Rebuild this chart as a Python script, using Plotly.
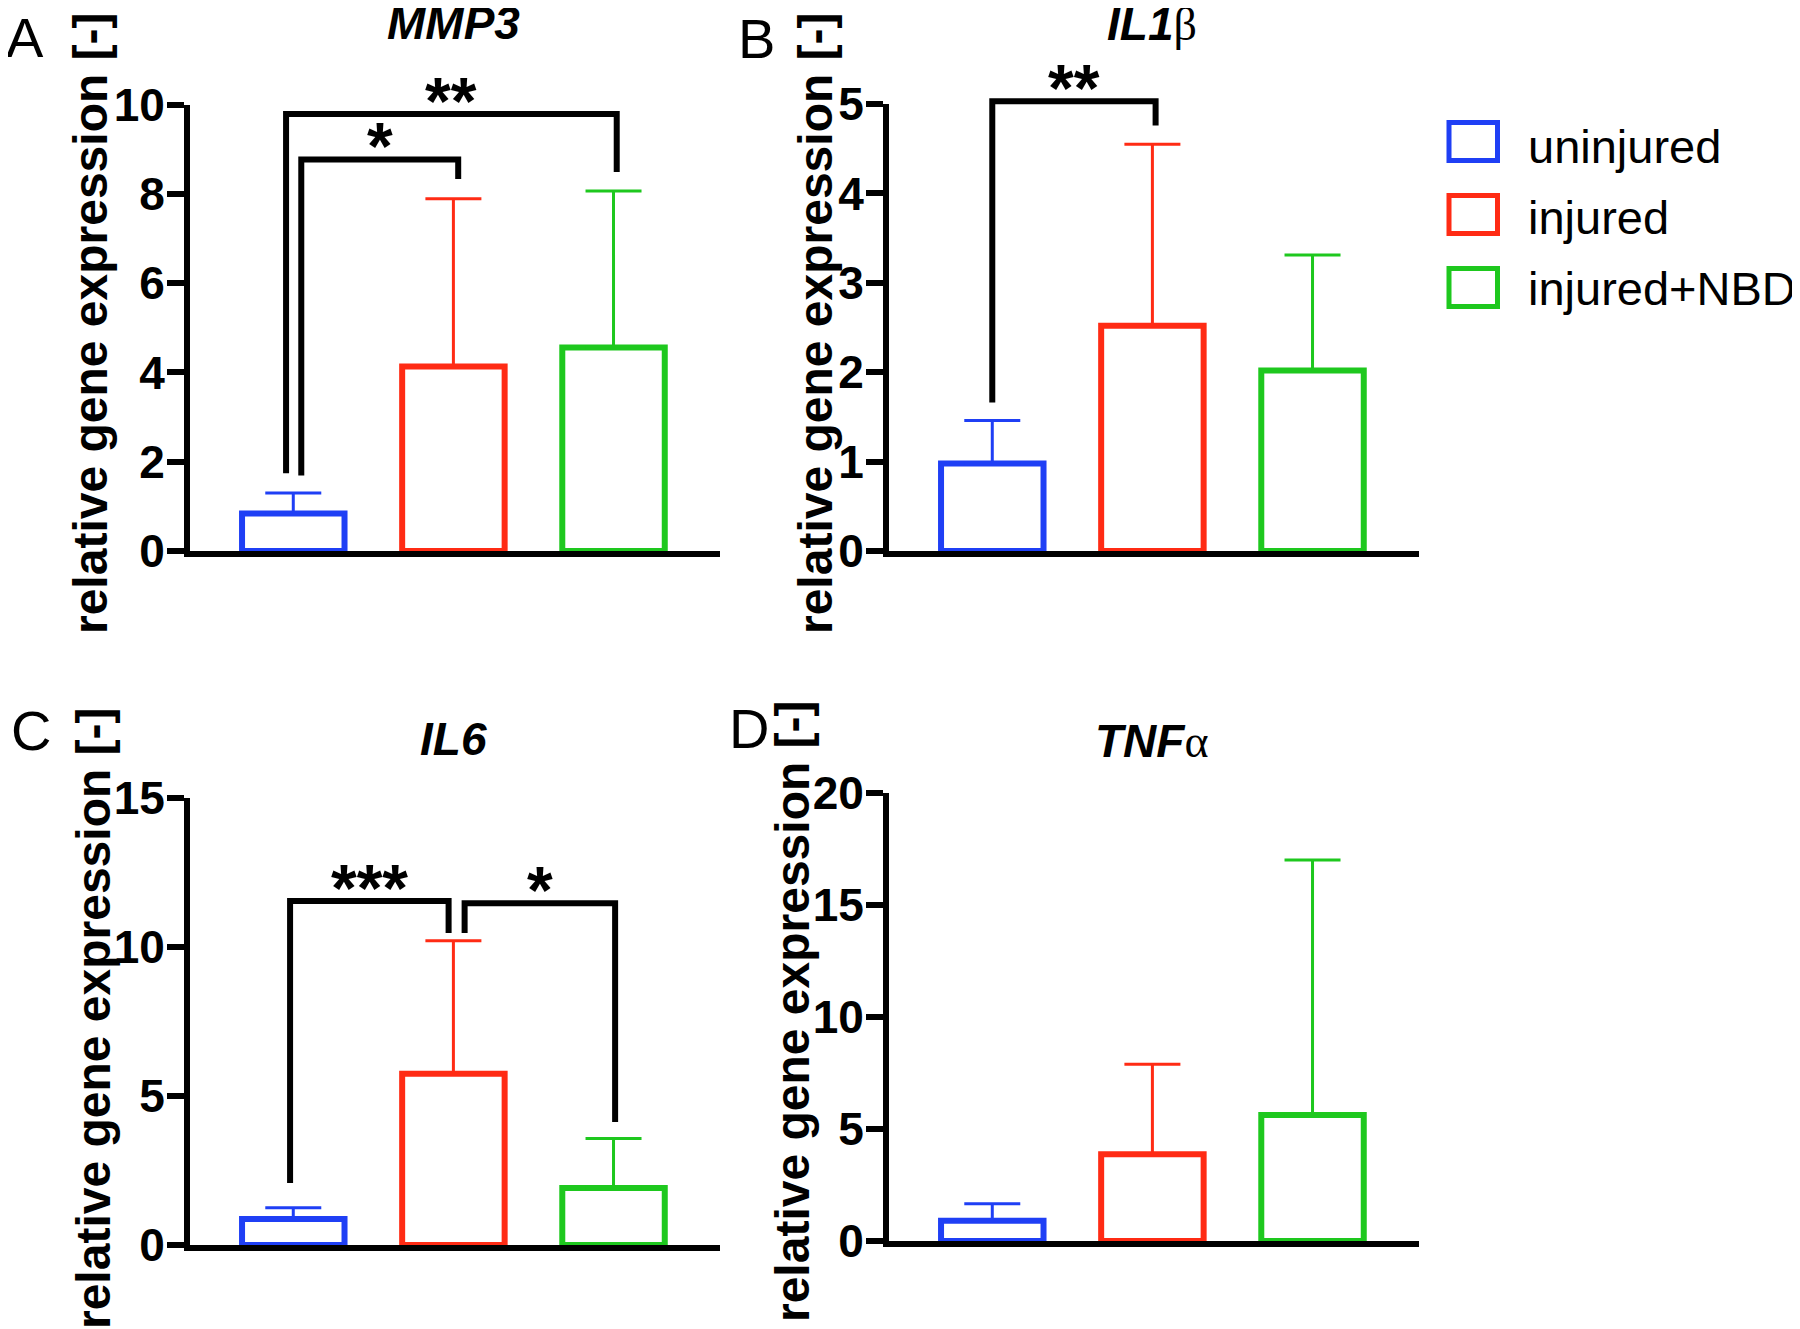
import plotly.graph_objects as go

# groups and colours
groups = ['uninjured', 'injured', 'injured+NBD']
colors = ['#1f3ff5', '#ff2b14', '#1ec81e']

panel_letters = ['A', 'B', 'C', 'D']
gene_titles = ['<b><i>MMP3</i></b>',
               "<b><i>IL1</i></b><span style='font-family:Liberation Serif'>β</span>",
               '<b><i>IL6</i></b>',
               "<b><i>TNF</i></b><span style='font-family:Liberation Serif'>α</span>"]

# mean and SD
mmp3_mean = [0.84, 4.13, 4.56]
mmp3_sd = [0.46, 3.76, 3.50]
il1b_mean = [0.98, 2.52, 2.02]
il1b_sd = [0.48, 2.03, 1.29]
il6_mean = [0.87, 5.75, 1.91]
il6_sd = [0.38, 4.46, 1.66]
tnfa_mean = [0.90, 3.87, 5.62]
tnfa_sd = [0.76, 4.02, 11.39]

y_max = [10, 5, 15, 20]
y_dtick = [2, 1, 5, 5]

# significance brackets: (group a, group b, label, bracket height, foot at a, foot at b)
mmp3_sig = [(0, 2, '**', 9.79, 1.74, 8.49), (0, 1, '*', 8.77, 1.69, 8.33)]
il1b_sig = [(0, 1, '**', 5.03, 1.66, 4.76)]
il6_sig = [(0, 1, '***', 11.54, 2.08, 10.47), (1, 2, '*', 11.47, 10.47, 4.13)]
tnfa_sig = []

means = [mmp3_mean, il1b_mean, il6_mean, tnfa_mean]
sds = [mmp3_sd, il1b_sd, il6_sd, tnfa_sd]
sigs = [mmp3_sig, il1b_sig, il6_sig, tnfa_sig]

# ----------------------------------------------------------------------------
# layout helpers (pixel positions on the page; the page body adds an 8px margin)
W, H = 1800, 1329
BODY = 8


def px(x):
    return (x - BODY) / W


def py(y):
    return 1 - (y - BODY) / H


# plot area of each panel: left, right, top, bottom
boxes = [(190, 720, 104.5, 551),
         (889, 1419, 104, 551),
         (190, 720, 798, 1245),
         (889, 1419, 793, 1241)]
# small sideways shifts of bracket feet, so the legs don't overlap
nudges = [[(-0.045, 0.02), (0.05, 0.03)],
          [(0.0, 0.02)],
          [(-0.02, -0.03), (0.07, 0.01)],
          []]
letter_pos = [(25, 37), (756, 39), (31, 730), (749, 728)]
ylabel_pos = [(90, 323), (815, 323), (93, 1018), (792, 1011)]
title_y = [23, 24, 739, 741]

FONT = 'Liberation Sans'

fig = go.Figure()
annotations = []
shapes = []

for k in range(4):
    n = str(k + 1) if k else ''
    xa, ya = 'x' + n, 'y' + n

    for g in range(3):
        fig.add_trace(go.Bar(
            x=[g], y=[means[k][g]], xaxis=xa, yaxis=ya,
            width=0.64,
            marker=dict(color='rgba(255,255,255,0)',
                        line=dict(color=colors[g], width=6)),
            error_y=dict(type='data', symmetric=False,
                         array=[sds[k][g]], arrayminus=[0],
                         color=colors[g], thickness=3, width=28),
            showlegend=False, hoverinfo='skip'))

    # brackets use the axis domain vertically so they can poke above the top tick
    for (a, b, lab, h, fa, fb), (da, db) in zip(sigs[k], nudges[k]):
        ym = y_max[k]
        shapes.append(dict(
            type='path', xref=xa, yref=ya + ' domain',
            path='M {} {} L {} {} L {} {} L {} {}'.format(
                a + da, fa / ym, a + da, h / ym, b + db, h / ym, b + db, fb / ym),
            line=dict(color='black', width=6)))
        annotations.append(dict(
            x=(a + da + b + db) / 2, y=h / ym, xref=xa, yref=ya + ' domain',
            text='<b>' + lab + '</b>', showarrow=False, yanchor='middle', yshift=13,
            font=dict(family=FONT, size=66, color='black')))

    l, r, t, b_ = boxes[k]
    axis_x = dict(domain=[px(l), px(r)], anchor=ya, range=[-0.645, 2.665],
                  showline=True, linewidth=6, linecolor='black',
                  showticklabels=False, ticks='', showgrid=False, zeroline=False,
                  automargin=False, fixedrange=True)
    axis_y = dict(domain=[py(b_), py(t)], anchor=xa, range=[0, y_max[k]],
                  dtick=y_dtick[k], tick0=0,
                  showline=True, linewidth=6, linecolor='black',
                  ticks='outside', ticklen=17, tickwidth=6, tickcolor='black',
                  ticklabelstandoff=-7,
                  tickfont=dict(family=FONT, size=46, color='black', weight='bold'),
                  showgrid=False, zeroline=False, automargin=False, fixedrange=True)
    fig.update_layout({'xaxis' + n: axis_x, 'yaxis' + n: axis_y})

    # gene name centred over the middle bar
    annotations.append(dict(
        x=1, y=py(title_y[k]), xref=xa, yref='paper', text=gene_titles[k],
        showarrow=False, yanchor='middle',
        font=dict(family=FONT, size=46, color='black')))
    # panel letter
    annotations.append(dict(
        x=px(letter_pos[k][0]), y=py(letter_pos[k][1]), xref='paper', yref='paper',
        text=panel_letters[k], showarrow=False, xanchor='center', yanchor='middle',
        font=dict(family=FONT, size=56, color='black')))
    # y axis title
    annotations.append(dict(
        x=px(ylabel_pos[k][0]), y=py(ylabel_pos[k][1]), xref='paper', yref='paper',
        text='<b>relative gene expression [-]</b>', textangle=-90, showarrow=False,
        xanchor='center', yanchor='middle',
        font=dict(family=FONT, size=48, color='black')))

# legend drawn by hand (open boxes like the bars)
legend_box_y = [(122.5, 160.5), (195.5, 233.5), (268.5, 306.5)]
legend_text_y = [146, 218, 289]
for g in range(3):
    y0, y1 = legend_box_y[g]
    shapes.append(dict(type='rect', xref='paper', yref='paper',
                       x0=px(1449), x1=px(1497.5), y0=py(y1), y1=py(y0),
                       line=dict(color=colors[g], width=5), fillcolor='rgba(0,0,0,0)'))
    annotations.append(dict(
        x=px(1526), y=py(legend_text_y[g]), xref='paper', yref='paper',
        text=groups[g], showarrow=False, xanchor='left', yanchor='middle',
        font=dict(family=FONT, size=47, color='black')))

fig.update_layout(width=W, height=H,
                  margin=dict(l=0, r=0, t=0, b=0, pad=0, autoexpand=False),
                  paper_bgcolor='white', plot_bgcolor='white',
                  barmode='overlay', showlegend=False,
                  annotations=annotations, shapes=shapes)

fig.write_html('out.html')
